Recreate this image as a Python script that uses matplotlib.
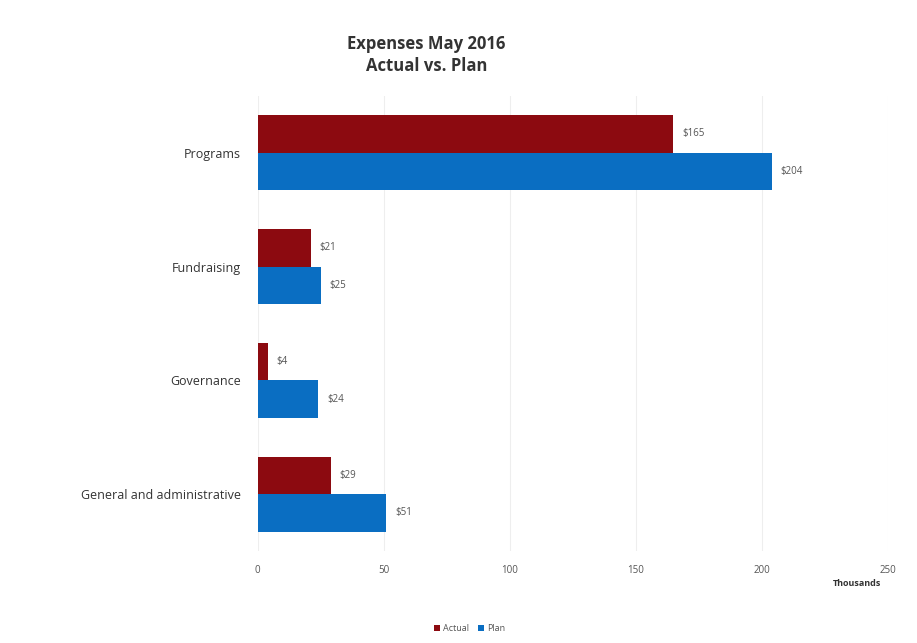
import numpy as np
import matplotlib
matplotlib.use("Agg")
import matplotlib.pyplot as plt

categories = ["General and administrative", "Governance", "Fundraising", "Programs"]
actual = [29, 4, 21, 165]
plan = [51, 24, 25, 204]
x_ticks = [0, 50, 100, 150, 200, 250]

plt.rcParams['font.family'] = ['Open Sans', 'DejaVu Sans']

fig = plt.figure(figsize=(9.17, 6.43), dpi=100)
ax = fig.add_axes([0.281, 0.143, 0.687, 0.708])

y = np.arange(len(categories))
h = 0.33
c_actual = "#8C0A10"
c_plan = "#0A6EC2"

b1 = ax.barh(y + h / 2, actual, height=h, color=c_actual, label="Actual")
b2 = ax.barh(y - h / 2, plan, height=h, color=c_plan, label="Plan")

for bars, vals in ((b1, actual), (b2, plan)):
    for bar, v in zip(bars, vals):
        ax.text(bar.get_width() + 3.5, bar.get_y() + bar.get_height() / 2, f"${v}",
                va="center", ha="left", fontsize=7, color="#555555")

ax.set_xlim(0, 250)
ax.set_ylim(-0.5, 3.5)
ax.set_yticks(y)
ax.set_yticklabels(categories, fontsize=9, color="#333333")
ax.set_xticks(x_ticks)
ax.set_xticklabels([str(t) for t in x_ticks], fontsize=7, color="#555555")
ax.tick_params(axis="both", length=0)
ax.tick_params(axis="x", pad=10)
ax.tick_params(axis="y", pad=12)
ax.grid(axis="x", color="#eeeeee", linewidth=0.8)
ax.set_axisbelow(True)
for s in ax.spines.values():
    s.set_visible(False)

fig.text(0.935, 0.089, "Thousands", fontsize=6.5, fontweight="bold", ha="center", color="#333333")
fig.text(0.465, 0.915, "Expenses May 2016\nActual vs. Plan", fontsize=12, fontweight="bold",
         ha="center", va="center", color="#333333", linespacing=1.3)

fig.legend(handles=[b1, b2], loc="center", bbox_to_anchor=(0.512, 0.022), ncol=2, frameon=False,
           fontsize=6.5, handlelength=0.7, handleheight=0.7, handletextpad=0.3, columnspacing=1.0,
           labelcolor="#555555")

fig.savefig("out.png", dpi=100)
